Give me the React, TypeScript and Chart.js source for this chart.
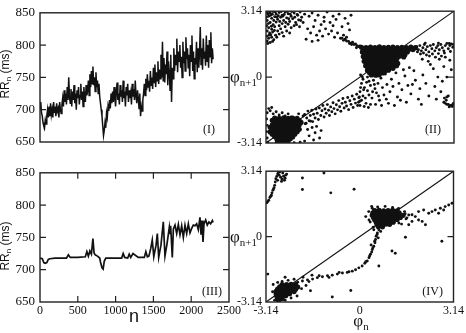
import React, { useEffect, useRef } from "react";
import { Chart, registerables } from "chart.js";
Chart.register(...registerables);

const SERIF = "'Liberation Serif','Times New Roman',Times,serif";
const SANS = "'Liberation Sans',Arial,Helvetica,sans-serif";
const INK = "#111";

// ---------- Panel (I): RR_n time series (one value every N_STEP beats) ----------
const N_STEP = 10;
const rrI: number[] = [
  700, 712, 695,
  690, 680, 675, 672, 684, 678, 690, 700, 688,
  705, 690, 710, 692, 700, 688, 712, 695, 705, 690, 710, 698, 702, 688, 712, 700, 694, 708,
  718, 705, 730, 712, 725, 708, 735, 715, 750, 720, 710, 732, 705, 728, 715, 738, 710, 725, 700, 730, 718, 735, 708, 722, 740, 715, 728, 705, 735, 720, 712, 738, 722,
  730, 745, 722, 755, 735, 760, 740, 767, 738, 750, 728, 758, 735, 745, 725, 740, 720,
  710, 700, 690, 675, 660,
  668, 680, 672, 695, 688, 705, 698, 715, 702, 725, 710,
  728, 712, 735, 718, 705, 730, 742, 715, 725, 708, 738, 720, 730, 712, 745, 718, 728, 705, 735, 722, 740, 712, 730, 718, 726, 708, 740, 720, 732, 715, 745, 722, 710, 730, 718, 702, 725,
  690, 705, 698, 715,
  725, 740, 722, 748, 730, 755, 735, 745, 728, 760, 738, 750, 732, 765, 742, 770, 735, 758, 745, 775, 740, 762, 748, 785, 750, 805, 745,
  780, 742, 770, 755, 790, 738, 775, 760, 730, 785, 712, 765, 748,
  795, 760, 785, 770, 810, 758, 790, 775, 800, 765, 782, 750, 805, 772, 790, 760, 812, 778, 795, 765, 785, 752, 800, 775, 815, 760, 790, 748, 780, 770, 805, 758, 795, 765, 788,
  828, 770, 795, 762, 810, 780, 790, 768, 815, 775, 800, 765, 808, 782, 820, 772, 795, 778,
];

// ---------- Panel (III): model RR_n ----------
const nIII: number[] = [
  0, 30, 50, 70, 90, 110, 130, 200, 300, 350,
  375, 400, 500, 600, 620, 640, 660, 680, 700, 715,
  730, 760, 790, 800, 820, 835, 850, 870, 900, 1000,
  1080, 1100, 1120, 1160, 1180, 1200, 1230, 1300, 1380, 1400,
  1420, 1440, 1465, 1485, 1505, 1535, 1552, 1570, 1600, 1631,
  1653, 1680, 1711, 1720, 1728, 1750, 1764, 1786, 1808, 1830,
  1852, 1874, 1896, 1918, 1940, 1962, 1984, 2006, 2028, 2050,
  2072, 2094, 2116, 2130, 2143, 2156, 2169, 2191, 2213, 2235,
  2257, 2280, 2290,
];
const rrIII: number[] = [
  718, 717, 711, 710, 711, 716, 717, 718, 718, 718,
  723, 719, 719, 720, 728, 721, 729, 724, 748, 726,
  723, 721, 718, 712, 703, 701, 713, 718, 718, 718,
  718, 725, 719, 718, 724, 719, 725, 719, 719, 728,
  720, 721, 733, 746, 720, 738, 756, 719, 738, 774,
  721, 740, 766, 756, 768, 719, 763, 769, 756, 770,
  754, 768, 750, 769, 756, 771, 757, 764, 769, 768,
  771, 762, 781, 754, 776, 743, 771, 777, 769, 774,
  771, 776, 773,
];

const rrTicks = [650, 700, 750, 800, 850];
const nTicks = [0, 500, 1000, 1500, 2000, 2500];
const phiTicks = [-3.14, 0, 3.14];
const diagonal: [number, number][] = [[-3.14, -3.14], [3.14, 3.14]];

// ---------- Panel (II): return map, data ----------
const phaseIISparse: [number, number][] = [
  [-3.1,3.1],[-3.0,3.05],[-2.9,3.12],[-2.8,3.0],[-2.7,3.08],[-2.6,2.95],[-2.5,3.1],[-2.4,3.02],[-2.3,2.9],[-2.2,3.05],[-2.1,2.98],[-2.0,3.1],[-1.95,2.85],
  [-3.05,2.9],[-2.95,2.8],[-2.85,2.88],[-2.75,2.75],[-2.65,2.85],[-2.55,2.7],[-2.45,2.82],[-2.35,2.65],[-2.25,2.78],[-2.15,2.6],[-2.05,2.72],
  [-3.1,2.7],[-3.0,2.6],[-2.9,2.5],[-2.8,2.62],[-2.7,2.45],[-2.6,2.55],[-2.5,2.4],[-2.4,2.52],[-2.3,2.35],[-2.2,2.45],
  [-3.12,2.45],[-3.05,2.35],[-2.95,2.28],[-2.85,2.4],[-2.75,2.2],[-2.65,2.3],
  [-3.1,2.2],[-3.02,2.1],[-2.92,2.15],[-2.82,2.0],[-3.12,1.95],[-3.05,1.85],[-2.95,1.9],[-2.88,1.78],[-3.1,1.72],[-3.0,1.65],[-2.92,1.7],[-3.08,1.6],[-2.98,2.02],[-2.78,1.9],[-2.7,2.05],[-2.6,2.12],[-2.55,1.95],[-2.45,2.2],[-2.35,2.1],
  [-3.13,2.85],[-3.08,3.0],[-2.98,2.95],[-2.88,2.7],[-2.78,2.85],[-2.68,2.65],[-2.58,2.9],[-2.48,2.6],[-2.38,2.78],[-2.28,3.12],[-2.18,2.85],[-2.08,2.95],[-1.98,2.7],[-2.12,2.5],[-2.02,2.4],[-1.9,2.6],[-1.85,3.0],
  [-3.03,3.12],[-2.93,3.0],[-2.83,3.1],[-2.73,2.92],[-2.63,3.12],[-2.53,2.98],[-2.43,3.12],[-2.33,3.0],[-3.06,2.55],[-2.96,2.42],[-3.04,2.0],[-2.86,2.22],
  [-1.7,2.9],[-1.6,3.05],[-1.5,2.7],[-1.4,2.95],[-1.3,2.5],[-1.2,2.85],[-1.1,3.1],[-1.0,2.6],[-0.9,2.9],[-0.8,2.75],[-0.7,3.0],[-0.6,2.4],[-0.5,2.8],[-0.4,2.55],[-0.3,2.95],
  [-1.75,2.3],[-1.65,2.1],[-1.55,2.4],[-1.45,2.0],[-1.35,2.2],[-1.25,1.95],[-1.15,2.3],[-1.05,2.05],[-0.95,2.2],[-0.85,1.9],[-0.75,2.1],[-0.65,1.85],[-1.8,1.8],[-1.6,1.7],[-1.4,1.75],[-0.55,2.0],[-0.45,1.9],[-0.35,2.25],[-0.9,2.45],[-1.2,2.65],
  [-0.6,1.85],[-0.5,1.8],[-0.45,1.72],[-0.38,1.7],[-0.3,1.62],[-0.25,1.66],[-0.2,1.55],[-0.15,1.58],[-0.1,1.5],[-0.05,1.45],[-0.55,1.75],[-0.35,1.6],[0,1.48],[-0.12,1.4],[-0.28,1.55],
  [1.9,1.45],[1.95,1.3],[2.0,1.5],[2.05,1.25],[2.1,1.4],[2.15,1.55],[2.2,1.3],[2.25,1.45],[2.3,1.2],[2.35,1.5],[2.4,1.35],[2.45,1.55],[2.5,1.25],[2.55,1.4],[2.6,1.5],[2.65,1.3],[2.7,1.55],[2.75,1.4],[2.8,1.25],[2.85,1.5],[2.9,1.6],[2.95,1.35],[3.0,1.5],[3.05,1.58],[3.1,1.42],[3.12,1.55],
  [1.92,1.2],[2.02,1.1],[2.12,1.15],[2.22,1.05],[2.32,1.0],[2.42,1.1],[2.52,0.95],[2.62,1.12],[2.72,1.0],[2.82,1.15],[3.02,1.22],[2.98,1.6],[2.62,1.62],[2.18,1.62],[2.08,0.85],[2.28,0.75],
  [0.02,0.1],[0.1,-0.1],[0.05,-0.3],[0.15,-0.5],[0.0,-0.7],[0.1,-0.9],[0.05,-1.1],[0.2,-1.25],[0.0,-1.35],[-0.05,-1.2],[0.25,0.0],[0.3,-0.2],[0.35,-0.4],[0.25,-0.65],[0.3,-0.85],[0.4,-1.0],[0.35,-1.3],
  [0.45,-0.15],[0.5,-0.55],[0.55,-0.75],[0.6,-0.3],[0.65,-1.1],[0.7,-0.05],[0.75,-0.5],[0.8,-0.85],[0.85,0.15],[0.9,-0.35],[0.95,-1.25],[1.0,-0.7],[1.05,-0.1],[1.1,-0.45],[1.2,0.2],[1.25,-0.95],[1.3,-0.3],[1.4,-0.6],
  [1.5,0.05],[1.55,-1.2],[1.6,-0.4],[1.7,-0.8],[1.8,0.3],[1.85,-0.15],[1.95,-1.05],[2.0,-0.55],[2.1,0.1],[2.2,-0.3],[2.3,-0.9],[2.45,0.4],[2.5,-0.45],[2.6,0.0],
  [0.12,-0.6],[0.42,-0.7],[0.18,-1.0],[0.08,0.0],[0.28,-1.45],[0.52,-1.3],[0.62,-0.9],[0.72,-1.35],[0.38,0.1],[0.58,0.05],[0.48,-0.35],[0.22,-0.25],[0.02,-0.5],[-0.02,-0.95],[0.14,-1.4],[0.88,-1.05],
  [1.15,-1.35],[1.35,-1.1],[1.45,0.35],[1.65,0.45],[0.95,0.35],[1.75,-0.35],[2.35,0.6],[2.05,-1.3],[2.7,-0.7],[2.8,0.5],[2.9,0.0],[3.0,0.8],[2.75,-0.2],[2.95,-0.9],[2.85,0.95],[3.05,0.35],[2.65,0.85],[2.55,-1.05],
  [2.8,-1.2],[2.85,-1.25],[2.9,-1.3],[2.95,-1.3],[3.0,-1.35],[3.05,-1.35],[3.1,-1.32],[3.12,-1.25],[3.08,-1.4],[2.98,-1.42],[2.88,-1.1],[2.82,-1.0],[2.9,-0.95],
  [-3.1,-1.7],[-3.0,-1.6],[-2.9,-1.75],[-2.8,-1.65],[-2.7,-1.8],[-2.6,-1.7],[-2.5,-1.85],[-2.4,-1.75],[-2.3,-1.9],[-3.12,-2.0],[-3.1,-2.3],[-3.12,-2.6],[-3.1,-2.9],[-3.08,-3.1],
  [-1.8,-2.2],[-1.75,-2.5],[-1.7,-2.8],[-1.6,-2.4],[-1.55,-3.0],[-1.5,-2.65],[-1.85,-3.05],[-2.0,-3.1],[-2.2,-3.12],[-2.4,-3.1],[-2.6,-3.12],[-2.8,-3.1],[-1.65,-2.1],[-1.45,-2.35],[-1.9,-1.85],[-2.05,-1.75],[-3.05,-1.5],[-2.95,-1.45],[-1.35,-2.9],[-1.3,-2.55],
  [-1.85,-1.78],[-1.83,-2.22],[-1.78,-1.95],[-1.74,-1.62],[-1.7,-2.08],[-1.66,-1.83],[-1.61,-1.58],[-1.58,-2.12],[-1.55,-1.77],[-1.5,-1.95],[-1.47,-1.52],[-1.43,-1.72],[-1.39,-2.02],
  [-1.36,-1.47],[-1.31,-1.83],[-1.27,-1.6],[-1.24,-1.35],[-1.2,-1.9],[-1.17,-1.52],[-1.13,-1.72],[-1.09,-1.31],[-1.05,-1.58],[-1.02,-1.83],[-0.98,-1.42],[-0.94,-1.65],[-0.9,-1.22],
  [-0.87,-1.5],[-0.83,-1.75],[-0.79,-1.32],[-0.75,-1.56],[-0.71,-1.12],[-0.68,-1.41],[-0.64,-1.63],[-0.6,-1.25],[-0.57,-1.02],[-0.53,-1.47],[-0.49,-1.2],[-0.45,-1.38],[-0.41,-0.97],
  [-0.38,-1.55],[-0.34,-1.13],[-0.3,-1.3],[-0.26,-0.9],[-0.23,-1.45],[-0.19,-1.05],[-0.15,-1.24],[-0.11,-0.82],[-0.08,-1.35],[-0.04,-0.98],[-0.01,-1.15],
];

const phaseIIDense: [number, number][] = [
  [0.05,1.42],[0.2,1.4],[0.35,1.43],[0.5,1.41],[0.65,1.44],[0.8,1.4],[0.95,1.42],[1.1,1.43],[1.25,1.4],[1.4,1.42],[1.55,1.41],[1.7,1.43],[1.85,1.4],
  [0.12,1.31],[0.27,1.3],[0.42,1.33],[0.57,1.3],[0.72,1.32],[0.87,1.29],[1.02,1.31],[1.17,1.33],[1.32,1.3],[1.47,1.32],[1.62,1.3],[1.77,1.31],
  [0.08,1.2],[0.23,1.22],[0.38,1.19],[0.53,1.21],[0.68,1.2],[0.83,1.18],[0.98,1.21],[1.13,1.2],[1.28,1.22],[1.43,1.19],[1.58,1.2],
  [0.15,1.09],[0.3,1.08],[0.45,1.1],[0.6,1.07],[0.75,1.09],[0.9,1.11],[1.05,1.08],[1.2,1.09],[1.35,1.1],[1.5,1.07],
  [0.11,0.98],[0.26,0.97],[0.41,0.99],[0.56,0.96],[0.71,0.98],[0.86,1.0],[1.01,0.97],[1.16,0.98],[1.31,0.99],[1.46,0.96],
  [0.18,0.87],[0.33,0.86],[0.48,0.88],[0.63,0.85],[0.78,0.87],[0.93,0.89],[1.08,0.86],[1.23,0.87],
  [0.14,0.76],[0.29,0.75],[0.44,0.77],[0.59,0.74],[0.74,0.76],[0.89,0.78],[1.04,0.75],[1.16,0.76],
  [0.21,0.65],[0.36,0.64],[0.51,0.66],[0.66,0.63],[0.81,0.65],[0.96,0.67],[1.11,0.64],[1.26,0.65],
  [0.19,0.54],[0.34,0.53],[0.49,0.55],[0.64,0.52],[0.79,0.54],[0.94,0.56],[1.09,0.53],[1.22,0.54],
  [0.26,0.43],[0.41,0.42],[0.56,0.44],[0.71,0.41],[0.86,0.43],[1.0,0.45],[1.1,0.42],
  [0.25,0.32],[0.4,0.31],[0.55,0.33],[0.7,0.3],[0.85,0.32],[0.95,0.33],
  [0.32,0.21],[0.47,0.2],[0.62,0.22],[0.77,0.2],
  [0.38,0.1],[0.52,0.09],[0.64,0.11],
  [-2.85,-1.95],[-2.7,-1.96],[-2.55,-1.94],[-2.4,-1.97],[-2.25,-1.95],[-2.1,-1.96],
  [-2.93,-2.06],[-2.78,-2.05],[-2.63,-2.07],[-2.48,-2.06],[-2.33,-2.04],[-2.18,-2.06],[-2.03,-2.07],
  [-2.85,-2.17],[-2.7,-2.18],[-2.55,-2.16],[-2.4,-2.17],[-2.25,-2.19],[-2.1,-2.17],[-1.97,-2.16],
  [-2.93,-2.28],[-2.78,-2.29],[-2.63,-2.27],[-2.48,-2.28],[-2.33,-2.3],[-2.18,-2.28],[-2.03,-2.27],
  [-3.0,-2.39],[-2.85,-2.4],[-2.7,-2.38],[-2.55,-2.39],[-2.4,-2.41],[-2.25,-2.39],[-2.1,-2.38],
  [-2.93,-2.5],[-2.78,-2.51],[-2.63,-2.49],[-2.48,-2.5],[-2.33,-2.52],[-2.18,-2.5],[-2.03,-2.49],
  [-3.0,-2.61],[-2.85,-2.62],[-2.7,-2.6],[-2.55,-2.61],[-2.4,-2.63],[-2.25,-2.61],[-2.1,-2.6],
  [-2.93,-2.72],[-2.78,-2.73],[-2.63,-2.71],[-2.48,-2.72],[-2.33,-2.74],[-2.18,-2.72],
  [-2.85,-2.83],[-2.7,-2.84],[-2.55,-2.82],[-2.4,-2.83],[-2.25,-2.85],
  [-2.78,-2.94],[-2.63,-2.95],[-2.48,-2.93],[-2.33,-2.94],
  [-2.7,-3.05],[-2.55,-3.06],[-2.4,-3.04],
];

// ---------- Panel (IV): model return map ----------
const phaseIVSparse: [number, number][] = [
  [-3.11,1.63],[-3.05,1.75],[-3.01,1.88],[-2.96,1.99],[-2.94,2.1],[-2.91,2.22],[-2.87,2.35],[-2.85,2.46],[-2.83,2.62],[-2.81,2.78],[-2.78,2.89],[-2.75,3.01],[-2.72,3.09],
  [-2.7,2.95],[-2.65,2.85],[-2.6,2.75],[-2.55,2.9],[-2.5,2.8],[-2.58,3.05],[-2.48,2.95],[-2.62,2.65],[-2.75,2.7],[-2.68,3.1],[-2.52,2.7],[-2.45,3.0],[-3.08,1.68],[-2.98,1.94],[-2.89,2.28],
  [-1.92,2.81],[-1.92,2.26],[-1.2,3.05],[-0.97,2.1],[-0.19,2.27],[1.53,-0.03],[2.75,-0.22],[-0.92,-2.9],[-0.3,-2.59],[-3.08,-1.8],
  [1.42,0.96],[1.64,1.04],[1.86,0.96],[1.97,0.8],[2.09,0.73],[2.2,0.57],[2.31,1.12],[2.42,1.2],[2.53,1.28],[2.7,1.36],[2.86,1.44],[2.98,1.52],[3.09,1.6],[2.81,1.28],[2.64,1.12],[1.75,0.73],[1.97,1.2],[2.14,1.28],[1.31,0.65],[1.64,0.57],[1.52,1.1],[1.58,0.9],[1.75,1.05],
  [0.3,1.2],[0.35,0.7],[0.4,1.45],[0.6,1.42],[0.85,1.45],[1.1,1.4],[1.3,1.35],[1.5,1.2],[1.55,0.85],[1.4,0.6],[0.45,0.45],[0.42,1.36],[0.2,0.96],[0.31,0.8],
  [0.64,0.33],[0.59,0.17],[0.55,0.02],[0.53,-0.14],[0.51,-0.3],[0.47,-0.46],[0.42,-0.62],[0.4,-0.74],[0.36,-0.85],[0.31,-1.01],[0.25,-1.17],[0.17,-1.28],[0.08,-1.41],[-0.03,-1.5],[-0.14,-1.59],
  [-0.25,-1.66],[-0.42,-1.72],[-0.58,-1.75],[-0.75,-1.8],[-0.92,-1.85],[-1.08,-1.88],[-1.25,-1.93],[-1.42,-1.97],[-1.58,-2.04],[-1.75,-2.08],[-1.92,-2.13],[-2.08,-2.19],
  [0.7,0.25],[0.62,-0.06],[0.44,-0.54],[0.33,-0.93],[0.2,-1.21],[-0.36,-1.69],[-0.69,-1.72],[-1.03,-1.96],[-1.36,-1.88],[-1.7,-2.16],[1.08,-0.69],[1.19,-0.8],[0.64,-1.41],[0.7,0.49],[0.47,0.33],[0.58,0.1],[0.5,-0.22],[0.38,-0.4],
  [-2.9,-2.3],[-2.85,-3.05],[-2.7,-3.12],[-2.5,-3.05],[-2.3,-2.95],[-2.1,-2.85],[-1.95,-2.5],[-1.8,-2.35],[-1.65,-2.6],[-2.2,-2.05],[-2.4,-2.1],[-2.6,-2.15],[-1.9,-1.95],[-1.6,-1.85],[-2.75,-2.2],[-2.92,-2.65],[-2.5,-1.95],
];

const phaseIVDense: [number, number][] = [
  [0.5,1.25],[0.65,1.26],[0.8,1.24],[0.95,1.25],[1.1,1.26],[1.25,1.24],
  [0.44,1.14],[0.58,1.13],[0.72,1.15],[0.87,1.14],[1.02,1.13],[1.17,1.15],[1.32,1.14],
  [0.42,1.03],[0.57,1.02],[0.72,1.04],[0.87,1.03],[1.02,1.02],[1.17,1.04],[1.32,1.03],[1.45,1.02],
  [0.46,0.92],[0.61,0.91],[0.76,0.93],[0.91,0.92],[1.06,0.91],[1.21,0.93],[1.36,0.92],
  [0.5,0.81],[0.65,0.8],[0.8,0.82],[0.95,0.81],[1.1,0.8],[1.25,0.82],
  [0.55,0.7],[0.7,0.69],[0.85,0.71],[1.0,0.7],[1.12,0.69],
  [0.58,0.59],[0.73,0.58],[0.88,0.6],[1.0,0.59],
  [0.62,0.48],[0.76,0.47],
  [-2.6,-2.3],[-2.45,-2.31],[-2.3,-2.29],[-2.15,-2.3],
  [-2.68,-2.41],[-2.53,-2.42],[-2.38,-2.4],[-2.23,-2.41],[-2.08,-2.42],
  [-2.75,-2.52],[-2.6,-2.53],[-2.45,-2.51],[-2.3,-2.52],[-2.15,-2.53],
  [-2.8,-2.63],[-2.65,-2.64],[-2.5,-2.62],[-2.35,-2.63],[-2.2,-2.64],
  [-2.8,-2.74],[-2.65,-2.75],[-2.5,-2.73],[-2.35,-2.74],
  [-2.78,-2.85],[-2.63,-2.86],[-2.48,-2.84],
  [-2.75,-2.96],[-2.6,-2.97],
  [-2.72,-3.07],
];

// ---------- drawing helpers ----------
const toXY = (pts: [number, number][]) => pts.map(([x, y]) => ({ x, y }));

const framePlugin = {
  id: "frame",
  afterDatasetsDraw(chart: any, _args: any, opts: any) {
    const { ctx, chartArea } = chart;
    const { left, right, top, bottom } = chartArea;
    ctx.save();
    ctx.strokeStyle = "#222";
    ctx.lineWidth = 1.4;
    ctx.strokeRect(left, top, right - left, bottom - top);
    ctx.lineWidth = 1.2;
    const L = 6;
    ctx.beginPath();
    for (const v of opts.yTicks || []) {
      const y = chart.scales.y.getPixelForValue(v);
      ctx.moveTo(left, y);
      ctx.lineTo(left + L, y);
      ctx.moveTo(right, y);
      ctx.lineTo(right - L, y);
    }
    for (const v of opts.xTicks || []) {
      const x = chart.scales.x.getPixelForValue(v);
      ctx.moveTo(x, bottom);
      ctx.lineTo(x, bottom - L);
      ctx.moveTo(x, top);
      ctx.lineTo(x, top + L);
    }
    ctx.stroke();
    ctx.restore();
  },
};

const setTicks = (vals: number[]) => (axis: any) => {
  axis.ticks = vals.map((v) => ({ value: v }));
};
const plainLabel = (v: any) => String(v);
const phiLabel = (v: any) => (Number(v) === 0 ? "0" : Number(v).toFixed(2));

function seriesConfig(points: { x: number; y: number }[], lineWidth: number, showX: boolean, padding: any, xHeight: number): any {
  return {
    type: "line",
    data: {
      datasets: [
        { data: points, borderColor: INK, borderWidth: lineWidth, pointRadius: 0, tension: 0, fill: false },
      ],
    },
    options: {
      responsive: false,
      animation: false,
      events: [],
      layout: { padding },
      plugins: {
        legend: { display: false },
        tooltip: { enabled: false },
        frame: { yTicks: [700, 750, 800], xTicks: showX ? [500, 1000, 1500, 2000] : [] },
      },
      scales: {
        x: {
          type: "linear",
          min: 0,
          max: 2500,
          display: showX,
          afterBuildTicks: setTicks(nTicks),
          afterFit: (s: any) => { s.height = xHeight; },
          grid: { display: false, drawTicks: false },
          border: { display: false },
          ticks: { autoSkip: false, maxRotation: 0, padding: 2, color: INK, callback: plainLabel, font: { family: SERIF, size: 12 } },
        },
        y: {
          type: "linear",
          min: 650,
          max: 850,
          afterBuildTicks: setTicks(rrTicks),
          afterFit: (s: any) => { s.width = 40; },
          grid: { display: false, drawTicks: false },
          border: { display: false },
          ticks: { padding: 5, color: INK, callback: plainLabel, font: { family: SERIF, size: 13 } },
        },
      },
    },
    plugins: [framePlugin],
  };
}

function phaseConfig(sparse: [number, number][], dense: [number, number][], showX: boolean, padding: any, xHeight: number): any {
  const dot = (r: number) => ({
    pointRadius: r,
    pointBackgroundColor: INK,
    pointBorderColor: INK,
    pointBorderWidth: 0,
    showLine: false,
  });
  return {
    type: "scatter",
    data: {
      datasets: [
        { type: "line", data: toXY(diagonal), borderColor: INK, borderWidth: 1.1, pointRadius: 0, showLine: true, fill: false },
        { data: toXY(sparse), ...dot(1.45) },
        { data: toXY(dense), ...dot(2.6) },
      ],
    },
    options: {
      responsive: false,
      animation: false,
      events: [],
      layout: { padding },
      plugins: {
        legend: { display: false },
        tooltip: { enabled: false },
        frame: { yTicks: [0], xTicks: [] },
      },
      scales: {
        x: {
          type: "linear",
          min: -3.14,
          max: 3.14,
          display: showX,
          afterBuildTicks: setTicks(phiTicks),
          afterFit: (s: any) => { s.height = xHeight; },
          grid: { display: false, drawTicks: false },
          border: { display: false },
          ticks: { autoSkip: false, maxRotation: 0, padding: 2, color: INK, callback: phiLabel, font: { family: SERIF, size: 12 } },
        },
        y: {
          type: "linear",
          min: -3.14,
          max: 3.14,
          afterBuildTicks: setTicks(phiTicks),
          afterFit: (s: any) => { s.width = 30; },
          grid: { display: false, drawTicks: false },
          border: { display: false },
          ticks: { padding: 4, color: INK, callback: phiLabel, font: { family: SERIF, size: 12 } },
        },
      },
    },
    plugins: [framePlugin],
  };
}

function ChartCanvas({ left, top, width, height, build }: { left: number; top: number; width: number; height: number; build: () => any }) {
  const ref = useRef<HTMLCanvasElement>(null);
  useEffect(() => {
    const chart = new Chart(ref.current as HTMLCanvasElement, build());
    return () => chart.destroy();
  }, []);
  return (
    <canvas
      ref={ref}
      width={width}
      height={height}
      style={{ position: "absolute", left, top, width, height }}
    />
  );
}

const abs = (s: any): any => ({ position: "absolute", whiteSpace: "nowrap", color: INK, ...s });

function RRLabel({ cx, cy }: { cx: number; cy: number }) {
  return (
    <div
      style={abs({
        left: cx,
        top: cy,
        fontFamily: SANS,
        fontSize: 12,
        lineHeight: "14px",
        transform: "translate(-50%,-50%) rotate(-90deg)",
      })}
    >
      RR<sub style={{ fontSize: 8, verticalAlign: "-2px" }}>n</sub> (ms)
    </div>
  );
}

function PhiLabel({ right, top, sub }: { right: number; top: number; sub: string }) {
  return (
    <div style={abs({ right, top, fontFamily: SERIF, fontSize: 17, lineHeight: "20px" })}>
      φ<sub style={{ fontSize: 11, verticalAlign: "-4px" }}>{sub}</sub>
    </div>
  );
}

function Tag({ right, top, text }: { right: number; top: number; text: string }) {
  return (
    <div style={abs({ right, top, fontFamily: SERIF, fontSize: 12, lineHeight: "12px" })}>{text}</div>
  );
}

export default function App() {
  const seriesI = rrI.map((v, i) => ({ x: i * N_STEP, y: v }));
  const seriesIII = nIII.map((n, i) => ({ x: n, y: rrIII[i] }));
  return (
    <div style={{ position: "fixed", left: 0, top: 0, width: 466, height: 333, background: "#fff", overflow: "hidden" }}>
      <ChartCanvas left={0} top={0} width={236} height={160}
        build={() => seriesConfig(seriesI, 1.5, false, { left: 0, right: 7, top: 10, bottom: 18 }, 0)} />
      <ChartCanvas left={236} top={0} width={230} height={160}
        build={() => phaseConfig(phaseIISparse, phaseIIDense, false, { left: 0, right: 12, top: 10, bottom: 17 }, 0)} />
      <ChartCanvas left={0} top={160} width={250} height={173}
        build={() => seriesConfig(seriesIII, 1.7, true, { left: 0, right: 21, top: 9, bottom: 0 }, 31)} />
      <ChartCanvas left={236} top={160} width={230} height={173}
        build={() => phaseConfig(phaseIVSparse, phaseIVDense, true, { left: 0, right: 12, top: 10, bottom: 0 }, 31)} />

      <RRLabel cx={7} cy={74} />
      <RRLabel cx={7} cy={246} />
      <PhiLabel right={466 - 257} top={67} sub="n+1" />
      <PhiLabel right={466 - 257} top={227} sub="n+1" />
      <div style={abs({ left: 134, top: 306, transform: "translateX(-50%)", fontFamily: SANS, fontSize: 18, lineHeight: "20px" })}>n</div>
      <div style={abs({ left: 361, top: 311, transform: "translateX(-50%)", fontFamily: SERIF, fontSize: 17, lineHeight: "20px" })}>
        φ<sub style={{ fontSize: 11, verticalAlign: "-4px" }}>n</sub>
      </div>
      <Tag right={466 - 215} top={123} text="(I)" />
      <Tag right={466 - 441} top={123} text="(II)" />
      <Tag right={466 - 222} top={285} text="(III)" />
      <Tag right={466 - 443} top={285} text="(IV)" />
    </div>
  );
}
